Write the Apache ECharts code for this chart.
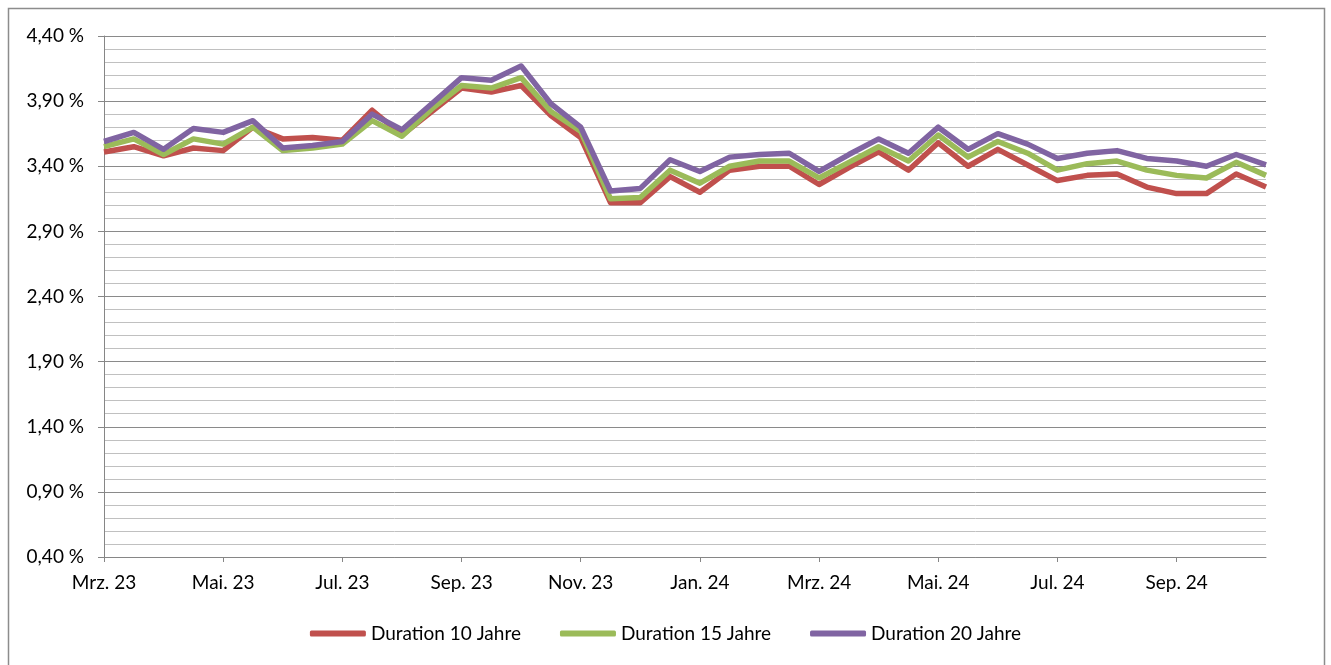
<!DOCTYPE html>
<html>
<head>
<meta charset="utf-8">
<script src="https://cdn.jsdelivr.net/npm/echarts@6/dist/echarts.min.js"></script>
<style>
html,body{margin:0;padding:0;background:#fff;}
#chart{width:1331px;height:665px;}
</style>
</head>
<body>
<div id="chart"></div>
<script>
// Half-month observation dates (Mrz. 2023 – Okt. 2024)
var dates = [
  '2023-03-01','2023-03-15','2023-04-01','2023-04-15','2023-05-01','2023-05-15','2023-06-01','2023-06-15',
  '2023-07-01','2023-07-15','2023-08-01','2023-08-15','2023-09-01','2023-09-15','2023-10-01','2023-10-15',
  '2023-11-01','2023-11-15','2023-12-01','2023-12-15','2024-01-01','2024-01-15','2024-02-01','2024-02-15',
  '2024-03-01','2024-03-15','2024-04-01','2024-04-15','2024-05-01','2024-05-15','2024-06-01','2024-06-15',
  '2024-07-01','2024-07-15','2024-08-01','2024-08-15','2024-09-01','2024-09-15','2024-10-01','2024-10-15'
];
var monthNames = ['Jan.','Feb.','Mrz.','Apr.','Mai.','Jun.','Jul.','Aug.','Sep.','Okt.','Nov.','Dez.'];
var seriesNames = ['Duration 10 Jahre','Duration 15 Jahre','Duration 20 Jahre'];

var duration10 = [3.51,3.55,3.48,3.54,3.52,3.70,3.61,3.62,3.60,3.83,3.64,3.82,4.00,3.97,4.02,3.79,3.62,3.12,3.12,3.32,
                  3.20,3.37,3.40,3.40,3.26,3.39,3.51,3.37,3.58,3.40,3.53,3.41,3.29,3.33,3.34,3.24,3.19,3.19,3.34,3.24];
var duration15 = [3.55,3.61,3.49,3.61,3.57,3.70,3.52,3.54,3.57,3.75,3.63,3.84,4.02,4.00,4.08,3.82,3.67,3.15,3.16,3.37,
                  3.27,3.40,3.44,3.44,3.31,3.43,3.55,3.44,3.64,3.47,3.59,3.50,3.37,3.42,3.44,3.37,3.33,3.31,3.43,3.33];
var duration20 = [3.59,3.66,3.53,3.69,3.66,3.75,3.54,3.56,3.59,3.80,3.68,3.88,4.08,4.06,4.17,3.88,3.70,3.21,3.23,3.45,
                  3.36,3.47,3.49,3.50,3.36,3.49,3.61,3.50,3.70,3.53,3.65,3.57,3.46,3.50,3.52,3.46,3.44,3.40,3.49,3.41];

var colors = ['#C0504D','#9BBB59','#8064A2'];
var FONT = 'Lato, "Open Sans", sans-serif';

function monthLabel(d){
  var p = d.split('-');
  return monthNames[parseInt(p[1],10)-1] + ' ' + p[0].slice(2);
}

var chart = echarts.init(document.getElementById('chart'), null, {renderer:'canvas'});
var allData = [duration10, duration15, duration20];

chart.setOption({
  animation:false,
  color: colors,
  graphic:[{
    type:'rect', silent:true, z:-1,
    shape:{x:8.5, y:8.5, width:1316, height:720},
    style:{fill:'none', stroke:'#8c8c8c', lineWidth:1.5}
  }],
  grid:{left:104, right:65, top:36, bottom:108, containLabel:false},
  legend:{
    top: 619,
    left:'center',
    icon:'roundRect',
    itemWidth:56, itemHeight:6,
    itemGap:39,
    textStyle:{fontFamily:FONT, fontSize:19, color:'#000'},
    data: seriesNames
  },
  xAxis:{
    type:'category',
    boundaryGap:false,
    data: dates,
    axisLine:{lineStyle:{color:'#868686', width:1}},
    axisTick:{show:true, interval:3, length:5, lineStyle:{color:'#868686'}},
    axisLabel:{interval:3, margin:16, fontFamily:FONT, fontSize:19, color:'#000',
      formatter:function(v){return monthLabel(v);}},
    splitLine:{show:false}
  },
  yAxis:{
    type:'value',
    min:0.4, max:4.4, interval:0.5,
    axisLine:{show:true, lineStyle:{color:'#868686', width:1}},
    axisTick:{show:true, length:6, lineStyle:{color:'#868686'}},
    axisLabel:{margin:20, fontFamily:FONT, fontSize:19, color:'#000',
      formatter:function(v){return v.toFixed(2).replace('.',',') + ' %';}},
    splitLine:{show:true, lineStyle:{color:'#8a8a8a', width:1}},
    minorTick:{show:false, splitNumber:5},
    minorSplitLine:{show:true, lineStyle:{color:'#c0c0c0', width:1}}
  },
  series: seriesNames.map(function(n,i){
    return {
      name:n, type:'line', data: allData[i],
      symbol:'none', smooth:false, z: 2+i,
      lineStyle:{width:5.5, color:colors[i], join:'round'},
      itemStyle:{color:colors[i]}
    };
  })
});
</script>
</body>
</html>
